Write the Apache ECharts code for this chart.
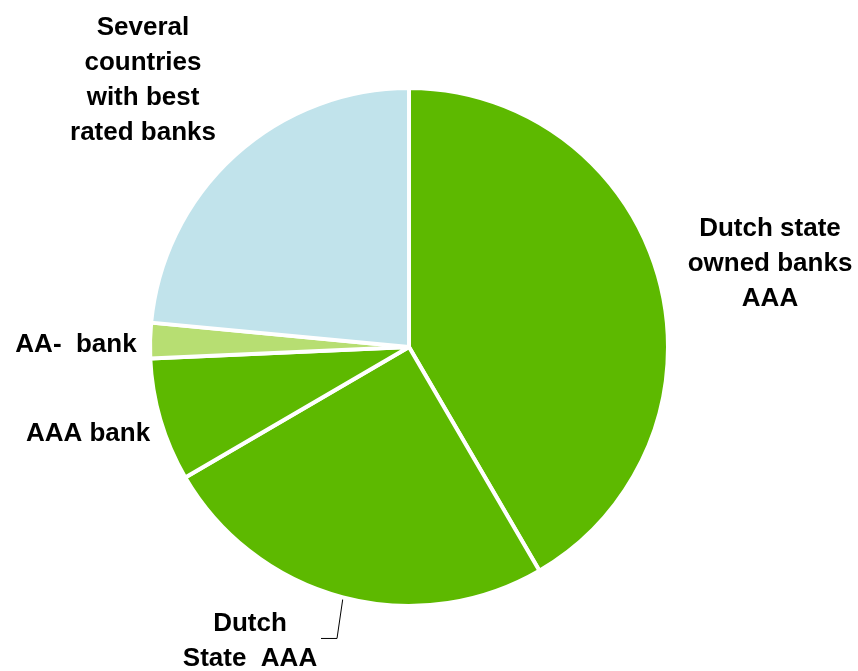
<!DOCTYPE html>
<html>
<head>
<meta charset="utf-8">
<style>
  html, body { margin: 0; padding: 0; background: #fff; }
  #chart { width: 858px; height: 671px; }
</style>
<script src="https://cdn.jsdelivr.net/npm/echarts@6/dist/echarts.min.js"></script>
</head>
<body>
<div id="chart"></div>
<script>
const categories = [
  'Dutch state\nowned banks\nAAA',
  'Dutch\nState  AAA',
  'AAA bank',
  'AA-  bank',
  'Several\ncountries\nwith best\nrated banks'
];
const values = [41.6, 25.0, 7.7, 2.2, 23.5];
const colors = ['#5DB900', '#5DB900', '#5DB900', '#B7DE72', '#C1E3EB'];
// label anchor positions (centre of each text block), styling only
const labelPos = [
  [770, 264],
  [250, 641],
  [88, 434],
  [76, 345],
  [143, 80]
];
const showLine = [false, true, false, false, false];

const chart = echarts.init(document.getElementById('chart'));
chart.setOption({
  animation: false,
  series: [{
    type: 'pie',
    center: [409, 347],
    radius: 259,
    startAngle: 90,
    clockwise: true,
    silent: true,
    itemStyle: { borderColor: '#ffffff', borderWidth: 4 },
    label: {
      show: true,
      position: 'outside',
      overflow: 'none',
      color: '#000',
      fontFamily: '"Liberation Sans", Arial, sans-serif',
      fontWeight: 'bold',
      fontSize: 26,
      lineHeight: 35,
      align: 'center'
    },
    labelLine: {
      show: true,
      lineStyle: { color: '#000', width: 1 }
    },
    labelLayout: function (params) {
      const i = params.dataIndex;
      const p = labelPos[i];
      const res = { x: p[0], y: p[1], align: 'center', verticalAlign: 'middle', width: 300 };
      if (showLine[i] && params.labelLinePoints) {
        const s = params.labelLinePoints[0];
        res.labelLinePoints = [
          [s[0], s[1]],
          [s[0] - 6, s[1] + 41],
          [s[0] - 22, s[1] + 41]
        ];
      } else {
        res.labelLinePoints = [[0, 0], [0, 0], [0, 0]];
      }
      return res;
    },
    data: categories.map((name, i) => ({
      name: name,
      value: values[i],
      itemStyle: { color: colors[i] },
      labelLine: { show: showLine[i] }
    }))
  }]
});
</script>
</body>
</html>
